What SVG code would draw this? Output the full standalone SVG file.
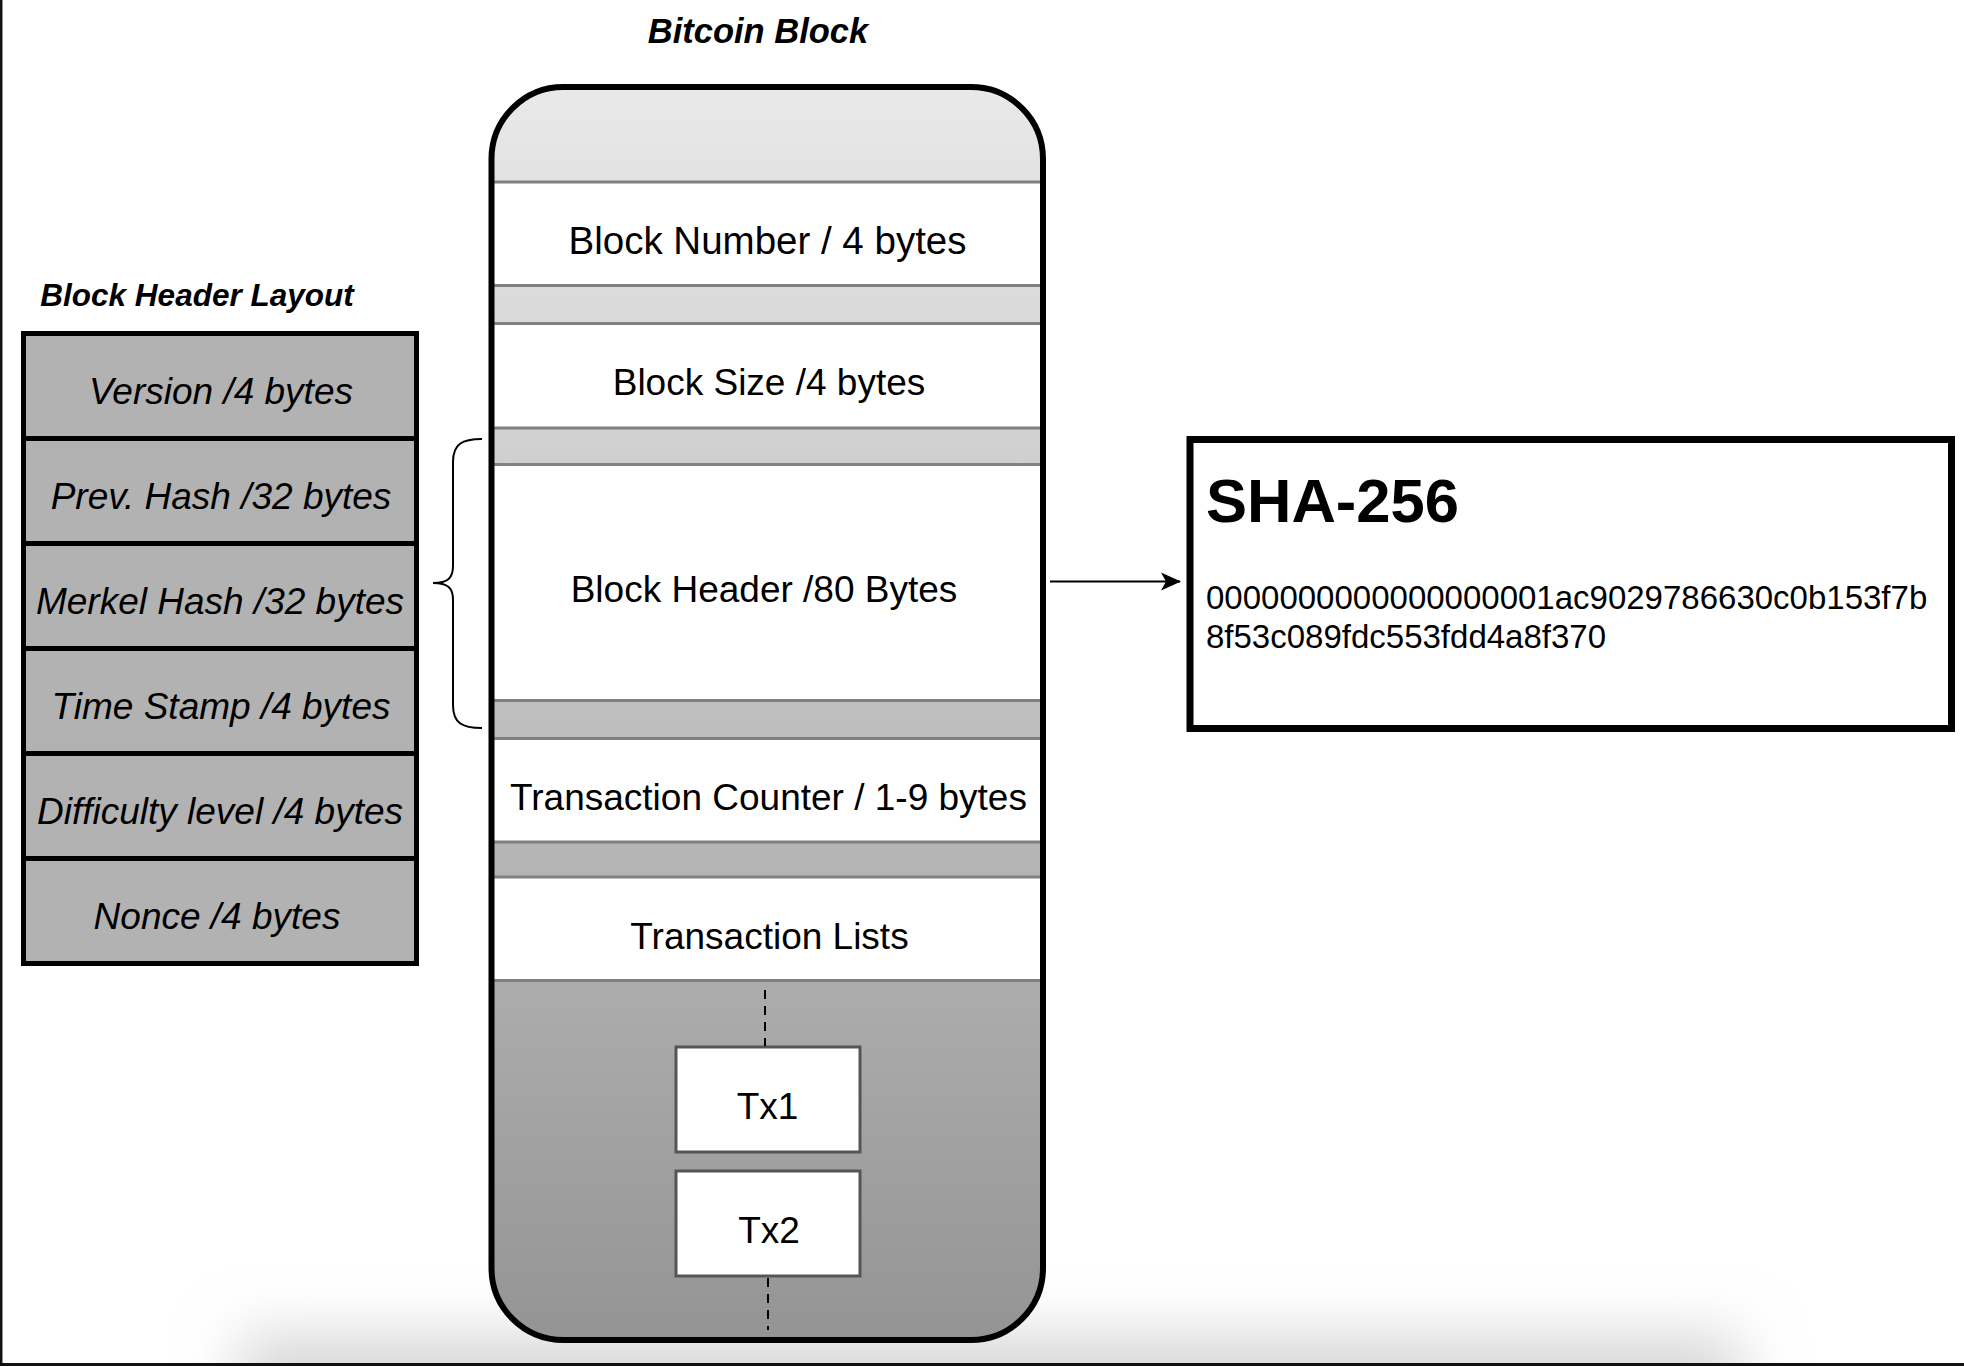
<svg xmlns="http://www.w3.org/2000/svg" width="1964" height="1366" viewBox="0 0 1964 1366">
  <defs>
    <linearGradient id="blockGrad" x1="0" y1="0" x2="0" y2="1">
      <stop offset="0" stop-color="#e9e9e9"/>
      <stop offset="1" stop-color="#949494"/>
    </linearGradient>
    <filter id="blur" x="-20%" y="-200%" width="140%" height="500%">
      <feGaussianBlur stdDeviation="30"/>
    </filter>
    <marker id="arrow" viewBox="0 0 20 20" markerWidth="20" markerHeight="20" refX="19" refY="10" orient="auto" markerUnits="userSpaceOnUse">
      <path d="M0,1 L20,10 L0,19 L5,10 Z" fill="#000"/>
    </marker>
    <style>
      .t { font-family: "Liberation Sans", Arial, sans-serif; fill: #000; }
      .row { font-size: 37px; text-anchor: middle; }
      .big { font-size: 38.5px; }
      .hdr { font-size: 37px; font-style: italic; text-anchor: middle; }
      .title { font-weight: bold; font-style: italic; }
      .layoutRow { fill: #b2b2b2; stroke: #000; stroke-width: 5; }
      .wrow { fill: #fff; stroke: #808080; stroke-width: 3; }
      .tx { fill: #fff; stroke: #555; stroke-width: 3; }
      .dash { stroke: #000; stroke-width: 2; stroke-dasharray: 9 7; fill: none; }
    </style>
  </defs>

  <rect x="0" y="0" width="1964" height="1366" fill="#fff"/>
  <!-- soft shadow at bottom -->
  <rect x="240" y="1335" width="1500" height="90" fill="#d6d6d6" filter="url(#blur)"/>

  <!-- frame edges -->
  <line x1="1.2" y1="0" x2="1.2" y2="1366" stroke="#111" stroke-width="2.5"/>
  <line x1="0" y1="1364.5" x2="1964" y2="1364.5" stroke="#111" stroke-width="3"/>

  <!-- titles -->
  <text class="t title" x="758" y="43" font-size="34.5" text-anchor="middle">Bitcoin Block</text>
  <text class="t title" x="197" y="306" font-size="31.5" text-anchor="middle">Block Header Layout</text>

  <!-- Block header layout table -->
  <g id="layout-version">
    <rect class="layoutRow" x="23.5" y="333.5" width="393" height="105"/>
    <text class="t hdr" x="221" y="404">Version /4 bytes</text>
  </g>
  <g id="layout-prevhash">
    <rect class="layoutRow" x="23.5" y="438.5" width="393" height="105"/>
    <text class="t hdr" x="221" y="509">Prev. Hash /32 bytes</text>
  </g>
  <g id="layout-merkel">
    <rect class="layoutRow" x="23.5" y="543.5" width="393" height="105"/>
    <text class="t hdr" x="220" y="614">Merkel Hash /32 bytes</text>
  </g>
  <g id="layout-timestamp">
    <rect class="layoutRow" x="23.5" y="648.5" width="393" height="105"/>
    <text class="t hdr" x="221" y="719">Time Stamp /4 bytes</text>
  </g>
  <g id="layout-difficulty">
    <rect class="layoutRow" x="23.5" y="753.5" width="393" height="105"/>
    <text class="t hdr" x="220" y="824">Difficulty level /4 bytes</text>
  </g>
  <g id="layout-nonce">
    <rect class="layoutRow" x="23.5" y="858.5" width="393" height="105"/>
    <text class="t hdr" x="217" y="929">Nonce /4 bytes</text>
  </g>

  <!-- Bitcoin block -->
  <g id="bitcoin-block">
    <rect x="491.5" y="87" width="551.5" height="1253" rx="72" ry="72" fill="url(#blockGrad)"/>
    <g id="block-number">
      <rect class="wrow" x="491.5" y="182" width="551.5" height="103.5"/>
      <text class="t row big" x="767.5" y="254">Block Number / 4 bytes</text>
    </g>
    <g id="block-size">
      <rect class="wrow" x="491.5" y="323.5" width="551.5" height="104.5"/>
      <text class="t row" x="769" y="395">Block Size /4 bytes</text>
    </g>
    <g id="block-header">
      <rect class="wrow" x="491.5" y="464.5" width="551.5" height="236"/>
      <text class="t row" x="764" y="602">Block Header /80 Bytes</text>
    </g>
    <g id="tx-counter">
      <rect class="wrow" x="491.5" y="738.5" width="551.5" height="103.5"/>
      <text class="t row" x="768.5" y="810">Transaction Counter / 1-9 bytes</text>
    </g>
    <g id="tx-lists">
      <rect class="wrow" x="491.5" y="877" width="551.5" height="103.5"/>
      <text class="t row" x="769.5" y="948.5">Transaction Lists</text>
    </g>
    <rect x="491.5" y="87" width="551.5" height="1253" rx="72" ry="72" fill="none" stroke="#000" stroke-width="6"/>
  </g>

  <g id="tx1">
    <rect class="tx" x="676" y="1047" width="184" height="105"/>
    <text class="t row" x="767.5" y="1119">Tx1</text>
  </g>
  <g id="tx2">
    <rect class="tx" x="676" y="1171" width="184" height="105"/>
    <text class="t row" x="769" y="1243">Tx2</text>
  </g>

  <!-- SHA-256 box -->
  <g id="sha256">
    <rect x="1190" y="439.5" width="761.5" height="289" fill="#fff" stroke="#000" stroke-width="7"/>
    <text class="t" x="1206" y="522" font-size="61.5" font-weight="bold">SHA-256</text>
    <text class="t" x="1206" y="609" font-size="33">0000000000000000001ac9029786630c0b153f7b</text>
    <text class="t" x="1206" y="648" font-size="33">8f53c089fdc553fdd4a8f370</text>
  </g>

  <!-- connectors -->
  <g id="connectors">
    <line class="dash" x1="765" y1="990" x2="765" y2="1046"/>
    <line class="dash" x1="768" y1="1278" x2="768" y2="1330"/>
    <line x1="1050" y1="581.5" x2="1180" y2="581.5" stroke="#000" stroke-width="2" marker-end="url(#arrow)"/>
    <path d="M482,439 C462,439 453,444 453,462 L453,566 C453,578 448,583 433,583 C448,583 453,588 453,600 L453,705 C453,723 462,728 482,728" fill="none" stroke="#000" stroke-width="2"/>
  </g>
</svg>
